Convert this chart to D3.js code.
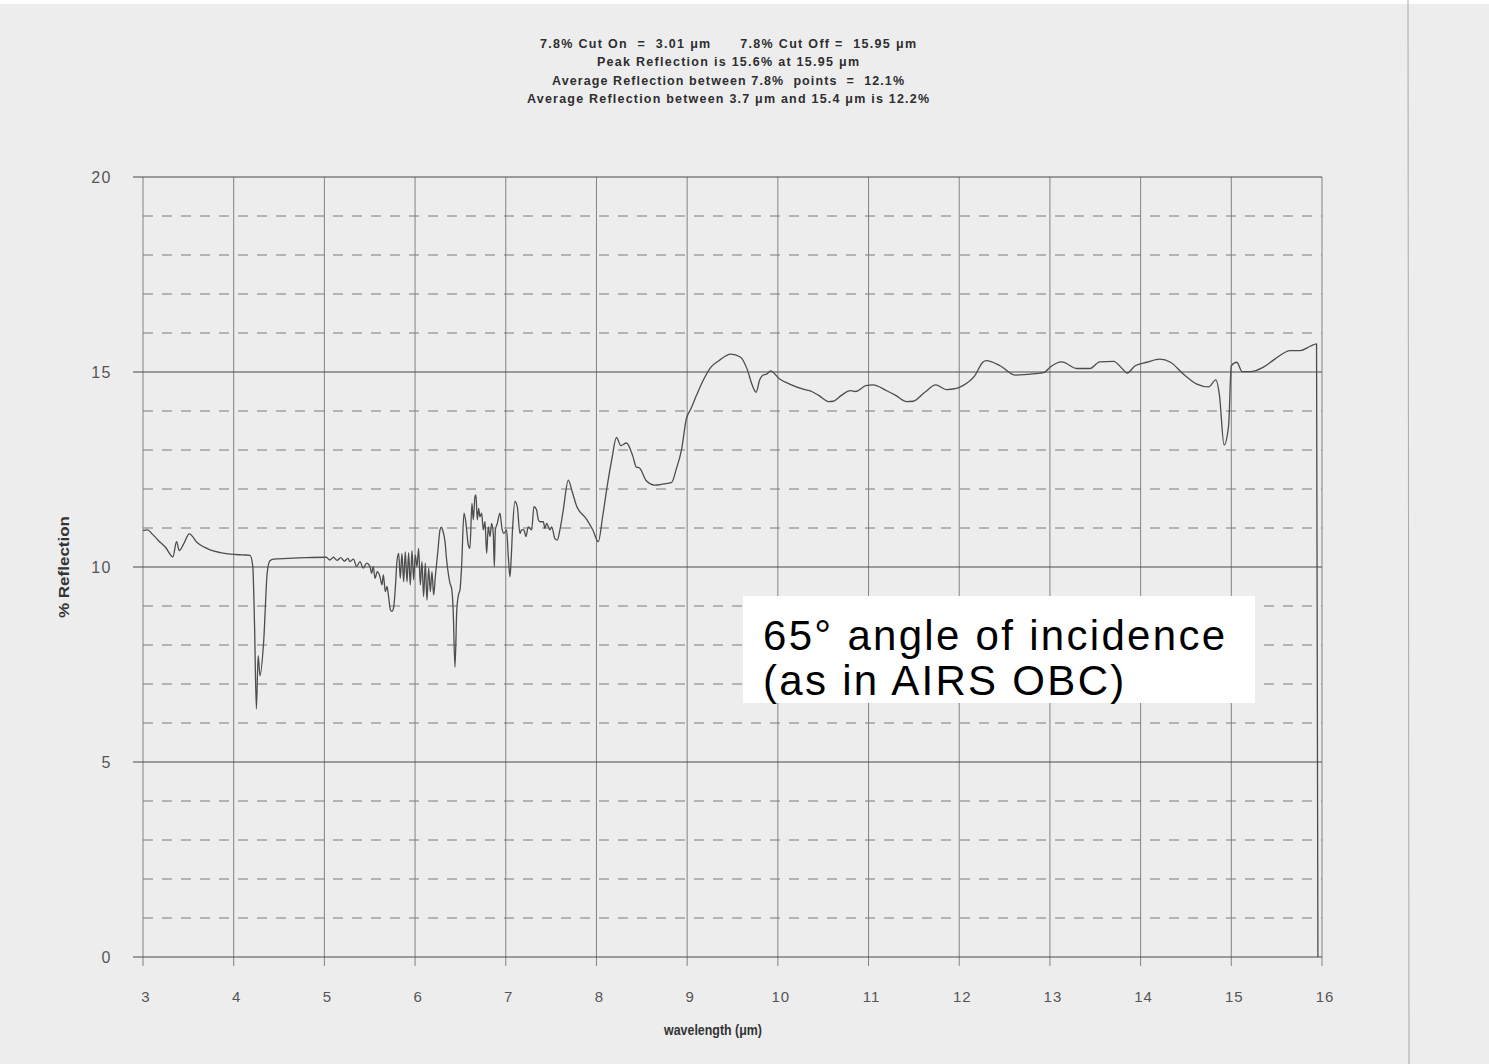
<!DOCTYPE html>
<html>
<head>
<meta charset="utf-8">
<script src="https://cdn.jsdelivr.net/npm/d3@7"></script>
<style>
  body { margin: 0; background: #ededee; }
  svg { display: block; }
  text { white-space: pre; }
</style>
</head>
<body>
<div id="chart"></div>
<script>
// header text
const titleLines = [
  "7.8% Cut On  =  3.01 \u03bcm      7.8% Cut Off =  15.95 \u03bcm",
  "Peak Reflection is 15.6% at 15.95 \u03bcm",
  "Average Reflection between 7.8%  points  =  12.1%",
  "Average Reflection between 3.7 \u03bcm and 15.4 \u03bcm is 12.2%"
]
const titleWidths = [376, 262, 352, 402]
const xTicks = [3, 4, 5, 6, 7, 8, 9, 10, 11, 12, 13, 14, 15, 16]
const yTicks = [0, 5, 10, 15, 20]
const yMinor = [1, 2, 3, 4, 6, 7, 8, 9, 11, 12, 13, 14, 16, 17, 18, 19]
const noteLines = ["65\u00b0 angle of incidence", "(as in AIRS OBC)"]

// curve
const wavelength = [
  3.00, 3.05, 3.10, 3.17, 3.25, 3.33, 3.37, 3.40, 3.45, 3.51, 3.60, 3.74, 3.85, 3.96, 4.10, 4.18,
  4.21, 4.23, 4.25, 4.27, 4.29, 4.33, 4.37, 4.40, 4.44, 4.60, 4.80, 5.02, 5.06, 5.10, 5.14, 5.18,
  5.22, 5.26, 5.282, 5.32, 5.356, 5.392, 5.429, 5.466, 5.503, 5.521, 5.539, 5.558, 5.583, 5.613,
  5.635, 5.650, 5.672, 5.690, 5.708, 5.727, 5.745, 5.764, 5.782, 5.800, 5.819, 5.837, 5.855, 5.874,
  5.892, 5.911, 5.929, 5.947, 5.966, 5.984, 6.002, 6.021, 6.039, 6.058, 6.076, 6.094, 6.113, 6.131,
  6.150, 6.168, 6.186, 6.205, 6.223, 6.249, 6.275, 6.29, 6.304, 6.33, 6.348, 6.366, 6.385, 6.403,
  6.42, 6.44, 6.46, 6.48, 6.495, 6.513, 6.539, 6.561, 6.587, 6.605, 6.627, 6.642, 6.660, 6.671,
  6.686, 6.701, 6.715, 6.734, 6.752, 6.771, 6.789, 6.807, 6.826, 6.844, 6.862, 6.874, 6.885, 6.907,
  6.936, 6.958, 6.980, 7.009, 7.028, 7.046, 7.057, 7.076, 7.101, 7.127, 7.156, 7.175, 7.200, 7.223,
  7.248, 7.285, 7.311, 7.340, 7.359, 7.377, 7.414, 7.432, 7.450, 7.487, 7.506, 7.542, 7.568, 7.597,
  7.63, 7.69, 7.73, 7.78, 7.89, 7.96, 8.02, 8.07, 8.12, 8.17, 8.22, 8.27, 8.33, 8.40, 8.44, 8.47,
  8.55, 8.64, 8.74, 8.83, 8.88, 8.94, 8.99, 9.04, 9.11, 9.18, 9.26, 9.35, 9.48, 9.59, 9.66, 9.72,
  9.76, 9.80, 9.83, 9.88, 9.92, 10.02, 10.13, 10.28, 10.35, 10.45, 10.56, 10.61, 10.70, 10.80, 10.86,
  10.97, 11.05, 11.20, 11.30, 11.42, 11.49, 11.62, 11.74, 11.86, 11.97, 12.04, 12.17, 12.26, 12.30,
  12.45, 12.62, 12.75, 12.89, 12.94, 13.00, 13.13, 13.30, 13.44, 13.55, 13.70, 13.80, 13.85, 13.94,
  14.07, 14.21, 14.33, 14.47, 14.62, 14.75, 14.83, 14.87, 14.92, 14.97, 15.00, 15.06, 15.12, 15.21,
  15.35, 15.48, 15.65, 15.76, 15.87, 15.94, 15.955
]
const reflection = [
  10.93, 10.95, 10.85, 10.68, 10.50, 10.26, 10.65, 10.42, 10.60, 10.85, 10.62, 10.44, 10.37, 10.33, 10.31, 10.30,
  10.03, 8.50, 6.36, 7.73, 7.21, 8.07, 9.86, 10.16, 10.20, 10.22, 10.24, 10.25, 10.18, 10.25, 10.17, 10.24,
  10.15, 10.22, 10.14, 10.20, 10.01, 10.14, 9.97, 10.10, 10.01, 9.84, 10.01, 9.71, 9.88, 9.75,
  9.54, 9.80, 9.37, 9.50, 9.24, 8.91, 8.86, 8.97, 9.45, 10.14, 10.35, 9.71, 10.35, 9.62,
  10.39, 9.62, 10.37, 9.54, 10.42, 9.67, 10.31, 10.01, 10.48, 9.54, 10.14, 9.24, 10.10, 9.15,
  9.97, 9.37, 9.88, 9.28, 9.75, 10.35, 10.95, 11.02, 10.95, 10.65, 10.18, 9.84, 9.58, 9.45,
  8.90, 7.43, 8.90, 9.30, 9.41, 10.01, 11.38, 11.12, 10.56, 10.48, 11.63, 11.21, 11.80, 11.85,
  11.21, 11.50, 11.29, 11.38, 10.95, 11.16, 10.35, 11.03, 10.78, 11.12, 10.86, 10.01, 10.95, 11.12,
  11.38, 10.99, 10.86, 10.95, 10.27, 9.75, 10.09, 11.03, 11.68, 11.55, 10.86, 10.95, 10.95, 10.78,
  11.03, 10.95, 11.55, 11.46, 11.21, 11.16, 11.16, 10.99, 11.12, 10.95, 11.03, 10.73, 10.69, 10.95,
  11.40, 12.23, 11.95, 11.57, 11.23, 10.95, 10.65, 11.32, 12.10, 12.77, 13.32, 13.11, 13.18, 12.85, 12.56, 12.55,
  12.21, 12.10, 12.13, 12.17, 12.51, 13.03, 13.79, 14.05, 14.44, 14.80, 15.12, 15.29, 15.46, 15.38, 15.08, 14.65,
  14.48, 14.80, 14.91, 14.95, 15.03, 14.82, 14.69, 14.56, 14.52, 14.40, 14.24, 14.25, 14.40, 14.52, 14.50,
  14.65, 14.67, 14.52, 14.40, 14.24, 14.25, 14.48, 14.67, 14.55, 14.58, 14.65, 14.90, 15.25, 15.29,
  15.16, 14.92, 14.94, 14.97, 14.99, 15.12, 15.26, 15.09, 15.09, 15.26, 15.27, 15.08, 14.97, 15.16,
  15.25, 15.33, 15.25, 14.95, 14.69, 14.62, 14.80, 14.39, 13.13, 13.62, 15.16, 15.25, 15.01, 15.01,
  15.12, 15.33, 15.55, 15.55, 15.66, 15.72, 0
]

const width = 1489, height = 1064

const svg = d3.select("#chart").append("svg")
  .attr("width", width)
  .attr("height", height)
  .attr("font-family", "Liberation Sans, Arial, sans-serif")

svg.append("rect").attr("width", width).attr("height", height).attr("fill", "#ededee")
// scan edges
svg.append("rect").attr("width", width).attr("height", 4).attr("fill", "#fff")
svg.append("line")
  .attr("x1", 1408).attr("x2", 1409).attr("y1", 0).attr("y2", height)
  .attr("stroke", "#a8a8a8").attr("stroke-width", 1)

const x = d3.scaleLinear().domain([3, 16]).range([143, 1322])
const y = d3.scaleLinear().domain([0, 20]).range([957, 177])

// header
svg.append("g")
  .selectAll("text")
  .data(titleLines)
  .join("text")
  .attr("x", 728)
  .attr("y", (d, i) => 48 + i * 18.3)
  .attr("text-anchor", "middle")
  .attr("font-size", 12.5)
  .attr("font-weight", "bold")
  .attr("fill", "#2e2e2e")
  .attr("textLength", (d, i) => titleWidths[i])
  .attr("lengthAdjust", "spacing")
  .text(d => d)

const grid = svg.append("g")

// dashed minor lines
grid.selectAll("line.minor")
  .data(yMinor)
  .join("line")
  .attr("class", "minor")
  .attr("x1", x(3)).attr("x2", x(16))
  .attr("y1", d => y(d)).attr("y2", d => y(d))
  .attr("stroke", "#7a7a7a")
  .attr("stroke-width", 1)
  .attr("stroke-dasharray", "10,9")

// vertical grid with ticks under the axis
grid.selectAll("line.vert")
  .data(xTicks)
  .join("line")
  .attr("class", "vert")
  .attr("x1", d => x(d)).attr("x2", d => x(d))
  .attr("y1", y(20)).attr("y2", y(0) + 9)
  .attr("stroke", "#777")
  .attr("stroke-width", 0.9)

// major horizontal lines
grid.selectAll("line.major")
  .data(yTicks)
  .join("line")
  .attr("class", "major")
  .attr("x1", x(3) - 10).attr("x2", x(16))
  .attr("y1", d => y(d)).attr("y2", d => y(d))
  .attr("stroke", "#4a4a4a")
  .attr("stroke-width", 1.1)

// y tick labels
svg.append("g")
  .selectAll("text")
  .data(yTicks)
  .join("text")
  .attr("x", 112)
  .attr("y", d => y(d))
  .attr("dy", "0.35em")
  .attr("text-anchor", "end")
  .attr("font-size", 16)
  .attr("letter-spacing", 1.5)
  .attr("fill", "#555")
  .text(d => d)

// x tick labels
svg.append("g")
  .selectAll("text")
  .data(xTicks)
  .join("text")
  .attr("x", d => x(d) + 3)
  .attr("y", 1002)
  .attr("text-anchor", "middle")
  .attr("font-size", 15)
  .attr("letter-spacing", 1)
  .attr("fill", "#555")
  .text(d => d)

// axis titles
svg.append("text")
  .attr("x", 713).attr("y", 1035)
  .attr("text-anchor", "middle")
  .attr("font-size", 14)
  .attr("font-weight", "bold")
  .attr("fill", "#333")
  .attr("textLength", 98)
  .attr("lengthAdjust", "spacingAndGlyphs")
  .text("wavelength (\u03bcm)")

svg.append("text")
  .attr("transform", "translate(69,567) rotate(-90)")
  .attr("text-anchor", "middle")
  .attr("font-size", 15)
  .attr("font-weight", "bold")
  .attr("fill", "#333")
  .attr("textLength", 102)
  .attr("lengthAdjust", "spacingAndGlyphs")
  .text("% Reflection")

// curve
const points = wavelength.map((w, i) => [w, reflection[i]])
svg.append("path")
  .datum(points)
  .attr("fill", "none")
  .attr("stroke", "#4d4d4d")
  .attr("stroke-width", 1.3)
  .attr("stroke-linejoin", "round")
  .attr("d", d3.line().x(d => x(d[0])).y(d => y(d[1])).curve(d3.curveMonotoneX))

// annotation box
const note = svg.append("g")
note.append("rect")
  .attr("x", 743).attr("y", 596)
  .attr("width", 512).attr("height", 107)
  .attr("fill", "#fff")
note.selectAll("text")
  .data(noteLines)
  .join("text")
  .attr("x", 763)
  .attr("y", (d, i) => 650 + i * 45)
  .attr("font-family", "Liberation Sans, Arial, sans-serif")
  .attr("font-size", 42)
  .attr("letter-spacing", 2.3)
  .attr("fill", "#000")
  .text(d => d)
</script>
</body>
</html>
